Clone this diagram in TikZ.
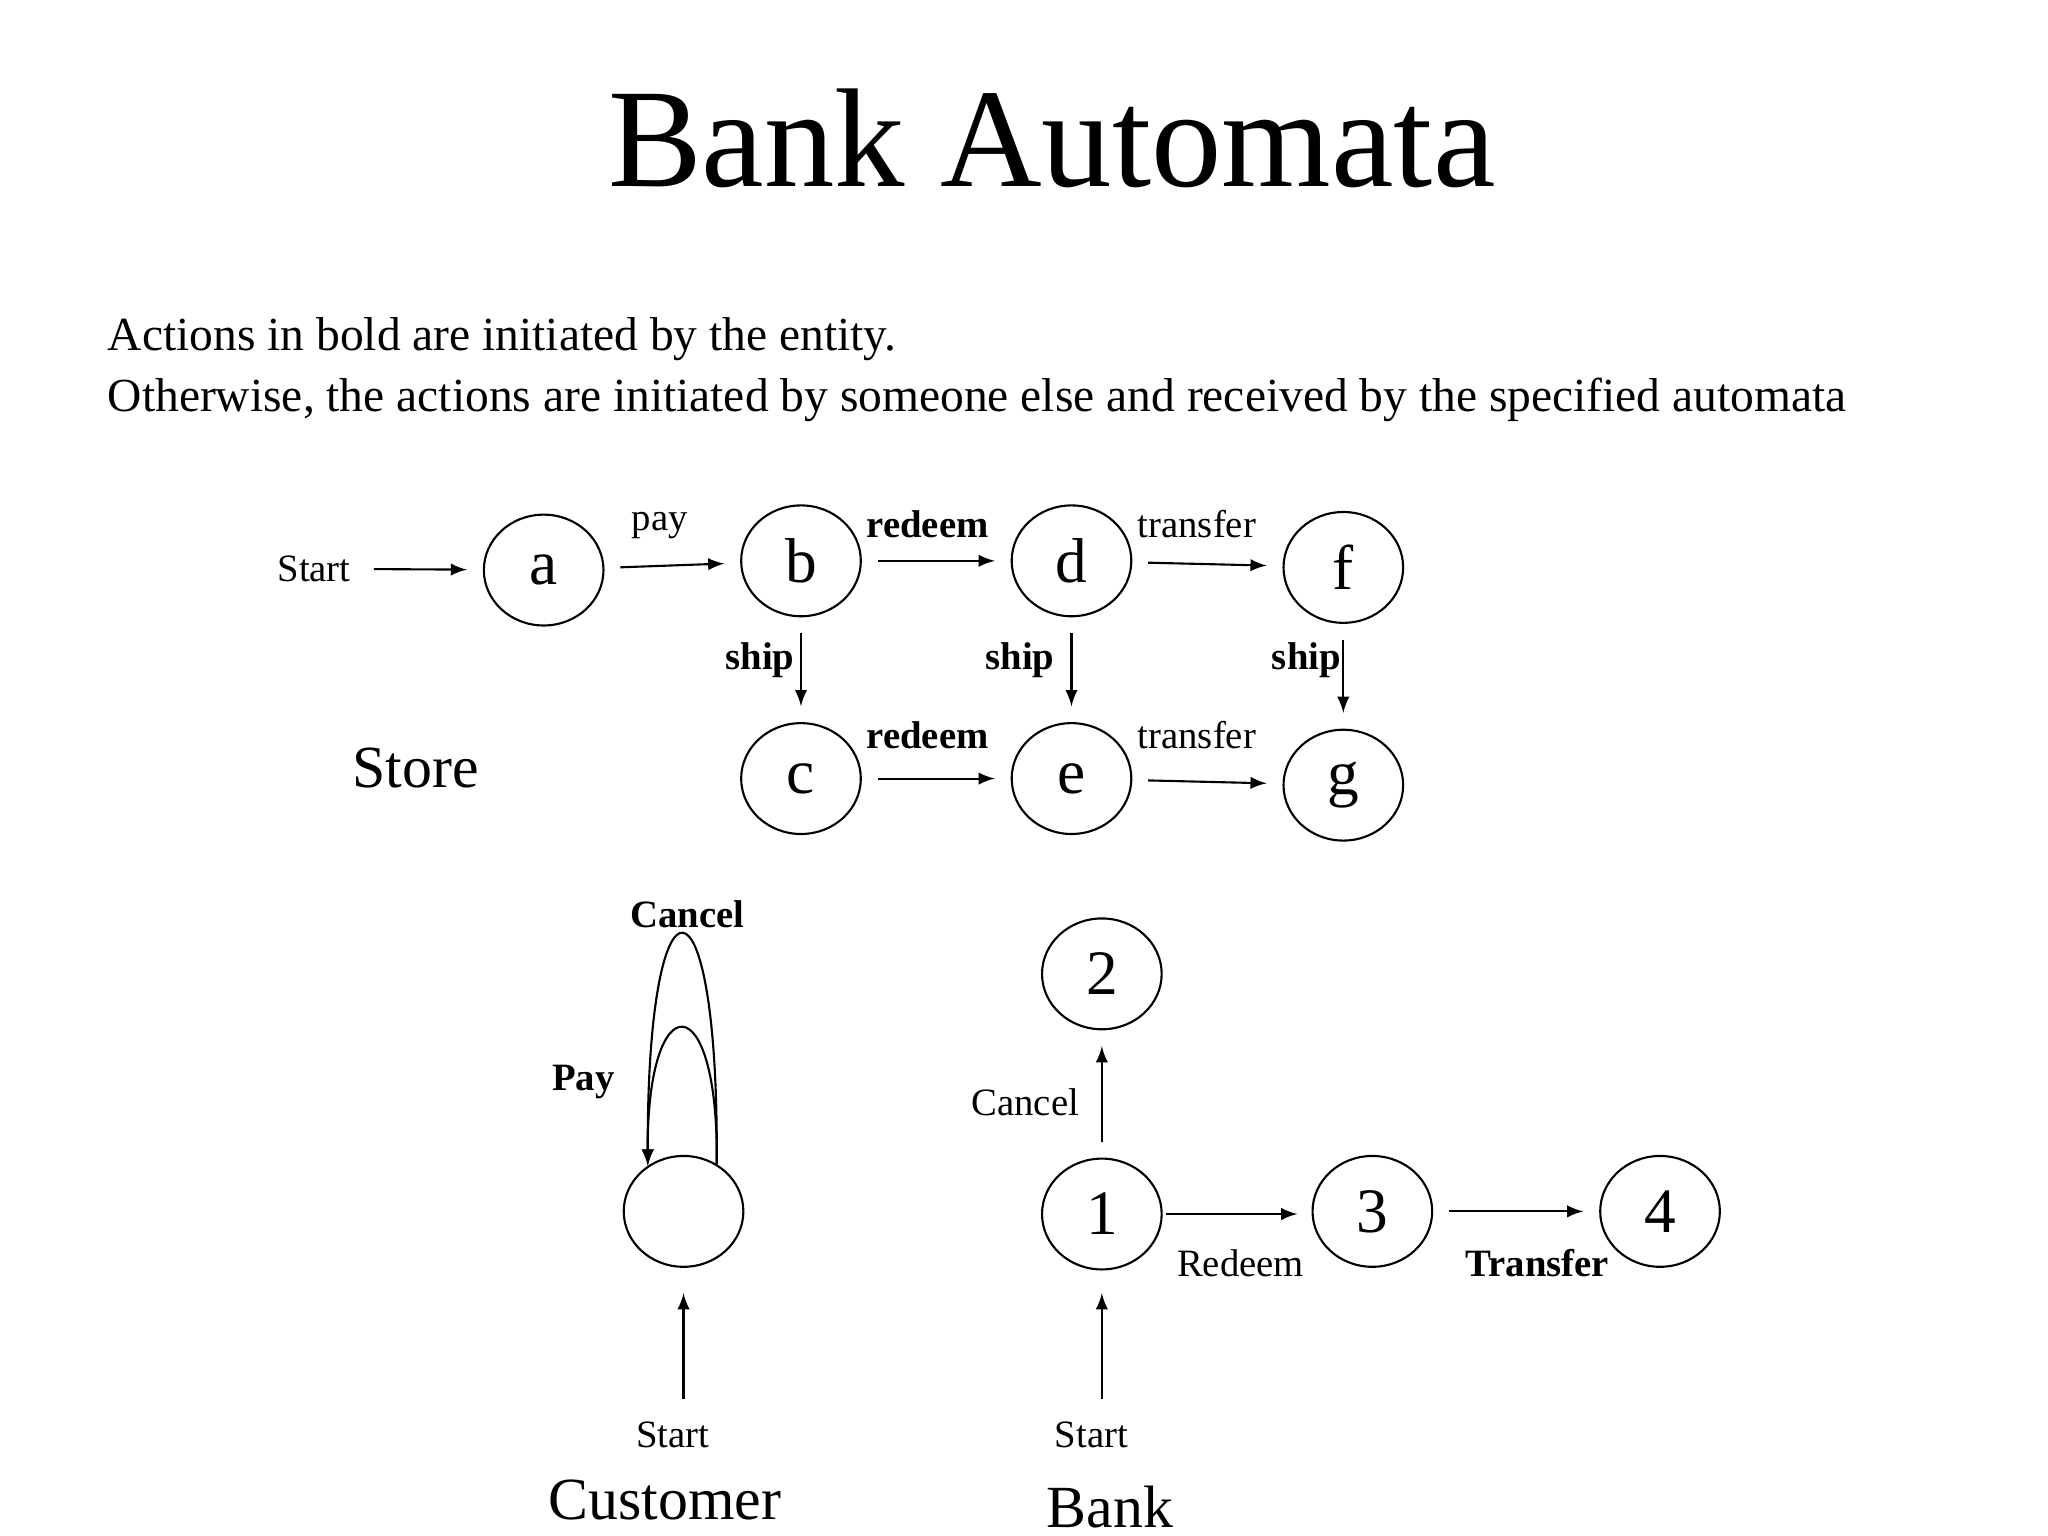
\documentclass[tikz,border=0pt]{standalone}
\usepackage{fontspec}
\setmainfont{Liberation Serif}
\usetikzlibrary{shapes.geometric}
\begin{document}
\begin{tikzpicture}[x=0.375pt, y=-0.375pt, >=latex, line width=0.6pt,
                    state/.style={ellipse,draw,minimum width=34pt,minimum height=31.5pt,inner sep=0pt,font=\fontsize{18}{18}\selectfont},
                    lbl/.style={font=\fontsize{11}{11}\selectfont},
                    blbl/.style={font=\fontsize{11}{11}\selectfont\bfseries},
                    big/.style={font=\fontsize{17}{17}\selectfont},
                    gap/.style={->,shorten >=4.5pt,shorten <=4.5pt}]
  \useasboundingbox (0,0) rectangle (1552,1164);

  \node[font=\fontsize{40}{40}\selectfont] (title) at (797,105) {Bank Automata};
  \node[anchor=west,align=left,font=\fontsize{13.5}{17.5}\selectfont] (intro) at (72,280)
    {Actions in bold are initiated by the entity.\\
     Otherwise, the actions are initiated by someone else and received by the specified automata};

  % store
  \node[lbl] (sstart) at (238,431) {Start};
  \node[state] (a) at (412,432) {a};
  \node[state] (b) at (607,425) {b};
  \node[state] (d) at (812,425) {d};
  \node[state] (f) at (1018,430) {f};
  \node[state] (c) at (607,590) {c};
  \node[state] (e) at (812,590) {e};
  \node[state] (g) at (1018,595) {g};
  \node[big] (store) at (315,582) {Store};

  \draw[->,shorten <=3pt,shorten >=4.5pt] (sstart) -- (a);
  \draw[gap] (a) -- (b);
  \draw[gap] (b) -- (d);
  \draw[gap] (d) -- (f);
  \draw[gap] (c) -- (e);
  \draw[gap] (e) -- (g);
  \draw[gap] (b) -- (c);
  \draw[gap] (d) -- (e);
  \draw[gap] (f) -- (g);
  \node[lbl] at (500,398) {pay};
  \node[blbl] at (703,397) {redeem};
  \node[lbl] at (907,397) {transfer};
  \node[blbl] at (703,557) {redeem};
  \node[lbl] at (907,557) {transfer};
  \node[blbl] at (576,500) {ship};
  \node[blbl] at (773,500) {ship};
  \node[blbl] at (990,500) {ship};

  % customer
  \node[state] (cust) at (518,918) {};
  \coordinate (cstart) at (518,1060);
  \draw[->] (cstart) -- (518,980);
  \node[lbl] (cstartl) at (510,1087) {Start};
  \node[big] (customer) at (504,1137) {Customer};
  \draw[->] (cust.55) .. controls (545,650) and (490,650) .. (cust.128);
  \draw[->] (cust.55) .. controls (545,745) and (490,745) .. (cust.128);
  \node[blbl] at (521,693) {Cancel};
  \node[blbl] at (442,820) {Pay};

  % bank
  \node[state] (n2) at (835,738) {2};
  \node[state] (n1) at (835,920) {1};
  \node[state] (n3) at (1040,918) {3};
  \node[state] (n4) at (1258,918) {4};
  \draw[gap] (n1) -- (n2);
  \draw[->,shorten <=1pt,shorten >=4pt] (n1.east) -- (n3.west |- n1.east);
  \draw[gap] (n3) -- (n4);
  \coordinate (bstart) at (835,1060);
  \draw[->] (bstart) -- (835,980);
  \node[lbl] at (777,835) {Cancel};
  \node[lbl] at (940,957) {Redeem};
  \node[blbl] at (1165,957) {Transfer};
  \node[lbl] (bstartl) at (827,1087) {Start};
  \node[big] (bank) at (841,1142) {Bank};
\end{tikzpicture}
\end{document}
